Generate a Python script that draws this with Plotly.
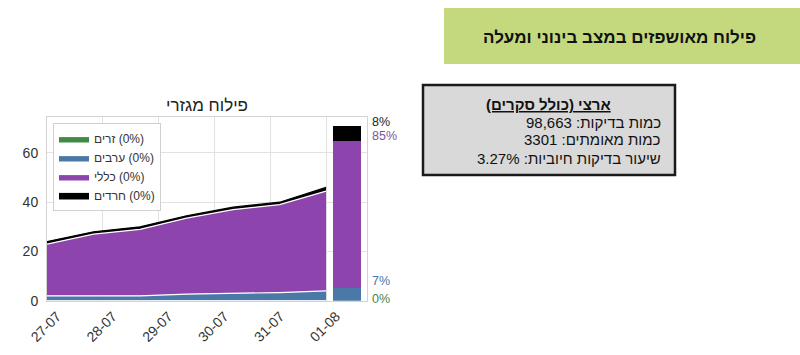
import plotly.graph_objects as go
import numpy as np

# ---------------- data ----------------
series_names = ["זרים", "ערבים", "כללי", "חרדים"]
series_colors = ["#3f8a45", "#4a79a8", "#8e44ad", "#000000"]
legend_pcts = [0, 0, 0, 0]

foreigners = [0, 0, 0, 0, 0, 0, 0]
arabs = [2, 2, 2, 2.7, 3, 3.3, 4]
general = [21, 25, 27, 30.8, 34, 35.7, 40.5]
haredim = [1, 1, 1, 1, 1, 1, 1.5]

bar_values = [0, 5, 60, 6]  # latest day: זרים, ערבים, כללי, חרדים

tick_labels = ["27-07", "28-07", "29-07", "30-07", "31-07", "01-08"]
y_ticks = [0, 20, 40, 60]

chart_title = "פילוח מגזרי"
banner_title = "פילוח מאושפזים במצב בינוני ומעלה"
box_title = "ארצי (כולל סקרים)"
box_lines = ["כמות בדיקות: 98,663", "כמות מאומתים: 3301", "שיעור בדיקות חיוביות: 3.27%"]

# ---------------- figure ----------------
W, H = 800, 355
RLM = "\u200f"
LRM = "\u200e"

def px_x(p):
    return p / W

def px_y(p):
    return 1 - p / H

series = [foreigners, arabs, general, haredim]
n = len(arabs)
x = list(range(n))

fig = go.Figure()
for name, vals, color, pct in zip(series_names, series, series_colors, legend_pcts):
    line_color = "#000000" if color == "#000000" else "white"
    fig.add_trace(go.Scatter(
        x=x, y=vals, stackgroup="one", mode="lines",
        line=dict(color=line_color, width=1.2),
        fillcolor=color,
        name=f"{name}{LRM} ({pct}%)",
        hoverinfo="skip",
    ))

bar_x = n - 1 + 0.45
for name, v, color in zip(series_names, bar_values, series_colors):
    fig.add_trace(go.Bar(
        x=[bar_x], y=[v], width=0.6, marker=dict(color=color, line=dict(width=0)),
        showlegend=False, name=name, hoverinfo="skip",
    ))

# percentage labels next to the bar
total = sum(bar_values)
label_pos = np.cumsum(bar_values).tolist()
label_pos[0] = 0
label_colors = ["#4d7f4d", "#4a76a0", "#7a56a0", "#222222"]
label_shift = [2, 7, 5, 4]
for v, ypos, c, s in zip(bar_values, label_pos, label_colors, label_shift):
    pct = round(v / total * 100)
    fig.add_annotation(
        x=px_x(371), xref="paper", y=ypos, yref="y",
        text=f"{pct}%", showarrow=False, xanchor="left", yanchor="middle",
        yshift=s, borderpad=0,
        font=dict(size=12.5, color=c, family="Liberation Sans, Arial"),
    )

tickvals = np.linspace(0, n - 1, len(tick_labels)).tolist()

fig.update_layout(
    width=W, height=H,
    margin=dict(l=0, r=0, t=0, b=0, autoexpand=False),
    paper_bgcolor="white", plot_bgcolor="white",
    barmode="stack",
    font=dict(family="Liberation Sans, Arial", color="#333333"),
    xaxis=dict(
        domain=[px_x(47), px_x(367)], range=[0, 6.88],
        tickvals=tickvals, ticktext=tick_labels, tickangle=-45,
        ticklabelshift=10, ticklabelstandoff=1,
        tickfont=dict(size=14, color="#333333"),
        showgrid=True, gridcolor="#e2e2e2", gridwidth=1,
        showline=True, linecolor="#d3d3d3", linewidth=1, mirror=True,
        zeroline=False, ticks="", automargin=False,
    ),
    yaxis=dict(
        domain=[1 - 300.7 / H, 1 - 117 / H], range=[0, 74.6],
        tickvals=y_ticks, tickfont=dict(size=14, color="#333333"),
        ticklabelstandoff=5,
        showgrid=True, gridcolor="#e2e2e2", gridwidth=1,
        showline=True, linecolor="#d3d3d3", linewidth=1, mirror=True,
        zeroline=False, ticks="", automargin=False,
    ),
    legend=dict(
        x=px_x(53), y=px_y(123), xanchor="left", yanchor="top",
        bgcolor="white", bordercolor="#d0d0d0", borderwidth=1,
        font=dict(size=12, color="#333333"), traceorder="normal",
        tracegroupgap=0, itemwidth=30,
    ),
    shapes=[
        dict(type="rect", xref="paper", yref="paper",
             x0=px_x(444), x1=1.0, y0=px_y(64), y1=px_y(8),
             fillcolor="#c4d97e", line=dict(width=0), layer="below"),
        dict(type="rect", xref="paper", yref="paper",
             x0=px_x(423), x1=px_x(675), y0=px_y(175), y1=px_y(85),
             fillcolor="#d9d9d9", line=dict(color="#1a1a1a", width=2.5), layer="below"),
    ],
)

# chart title
fig.add_annotation(x=px_x(207), y=px_y(105), xref="paper", yref="paper",
                   text=chart_title, showarrow=False, xanchor="center", yanchor="middle",
                   font=dict(size=17, color="#222222"))

# banner title
fig.add_annotation(x=px_x(619), y=px_y(38), xref="paper", yref="paper",
                   text=f"<b>{RLM}{banner_title}{RLM}</b>", showarrow=False,
                   xanchor="center", yanchor="middle",
                   font=dict(size=17, color="#111111"))

# info box: centred title, right-aligned lines
fig.add_annotation(x=px_x(548), y=px_y(104), xref="paper", yref="paper",
                   text=f"<b><u>{RLM}{box_title}{RLM}</u></b>", showarrow=False,
                   xanchor="center", yanchor="middle",
                   font=dict(size=15, color="#111111"))
for t, yy in zip(box_lines, [122, 140, 158]):
    fig.add_annotation(x=px_x(663), y=px_y(yy), xref="paper", yref="paper",
                       text=f"{RLM}{t}{RLM}", showarrow=False, xanchor="right", yanchor="middle",
                       font=dict(size=15, color="#111111"))

fig.write_html("out.html")
